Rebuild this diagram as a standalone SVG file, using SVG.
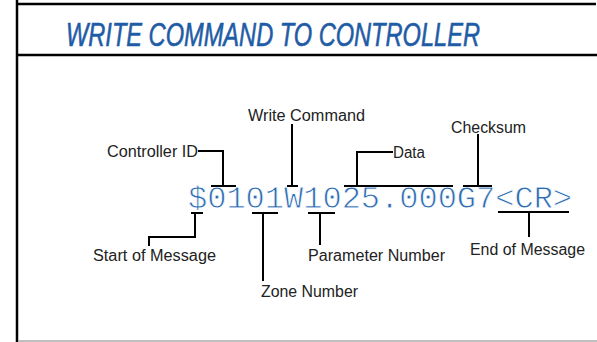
<svg xmlns="http://www.w3.org/2000/svg" width="597" height="342" viewBox="0 0 597 342">
<style>
.frame{stroke:#000;stroke-width:2.5;fill:none}
.c{stroke:#000;stroke-width:2;fill:none}
.lbl{font-family:"Liberation Sans",Arial,sans-serif;font-size:16px;fill:#222}
.title{font-family:"Liberation Sans",Arial,sans-serif;font-size:33px;font-style:italic;font-weight:normal;fill:#1f5ca6;stroke:#1f5ca6;stroke-width:0.6}
.msg{font-family:"Liberation Mono","Courier New",monospace;font-size:32px;fill:#2c6cb4;stroke:#fff;stroke-width:0.8}
</style>
<rect width="597" height="342" fill="#fff"/>
<g id="frame">
<line class="frame" x1="17" y1="0" x2="17" y2="342"/>
<line class="frame" x1="16" y1="4" x2="596" y2="4"/>
<line class="frame" x1="16" y1="55" x2="597" y2="55"/>
<line x1="18" y1="341" x2="597" y2="341" stroke="#aaa" stroke-width="1.5"/>
</g>
<g id="title"><text class="title" x="66" y="46" textLength="414" lengthAdjust="spacingAndGlyphs">WRITE COMMAND TO CONTROLLER</text></g>
<g id="message"><text class="msg" x="188" y="208">$0101W1025.000G7&lt;CR&gt;</text></g>
<g id="connectors">
<polyline class="c" points="211,186 236,186"/><polyline class="c" points="223,186 223,151 198,151"/>
<polyline class="c" points="287,186 298,186"/><polyline class="c" points="292,186 292,124"/>
<polyline class="c" points="344,186 453,186"/><polyline class="c" points="357,186 357,152 393,152"/>
<polyline class="c" points="463,186 492,186"/><polyline class="c" points="478,186 478,134"/>
<polyline class="c" points="191,213 203,213"/><polyline class="c" points="195,213 195,237 149,237 149,246"/>
<polyline class="c" points="252,213 278,213"/><polyline class="c" points="263,213 263,281"/>
<polyline class="c" points="308,213 335,213"/><polyline class="c" points="320,213 320,245"/>
<polyline class="c" points="498,212 569,212"/><polyline class="c" points="529,212 529,237"/>
</g>
<g id="controller-id"><text class="lbl" x="107" y="157" textLength="91" lengthAdjust="spacingAndGlyphs">Controller ID</text></g>
<g id="write-command"><text class="lbl" x="248" y="121" textLength="117" lengthAdjust="spacingAndGlyphs">Write Command</text></g>
<g id="data"><text class="lbl" x="393" y="158" textLength="32" lengthAdjust="spacingAndGlyphs">Data</text></g>
<g id="checksum"><text class="lbl" x="451" y="133" textLength="75" lengthAdjust="spacingAndGlyphs">Checksum</text></g>
<g id="start-of-message"><text class="lbl" x="93" y="261" textLength="123" lengthAdjust="spacingAndGlyphs">Start of Message</text></g>
<g id="zone-number"><text class="lbl" x="261" y="297" textLength="97" lengthAdjust="spacingAndGlyphs">Zone Number</text></g>
<g id="parameter-number"><text class="lbl" x="308" y="261" textLength="137" lengthAdjust="spacingAndGlyphs">Parameter Number</text></g>
<g id="end-of-message"><text class="lbl" x="470" y="255" textLength="115" lengthAdjust="spacingAndGlyphs">End of Message</text></g>
</svg>
